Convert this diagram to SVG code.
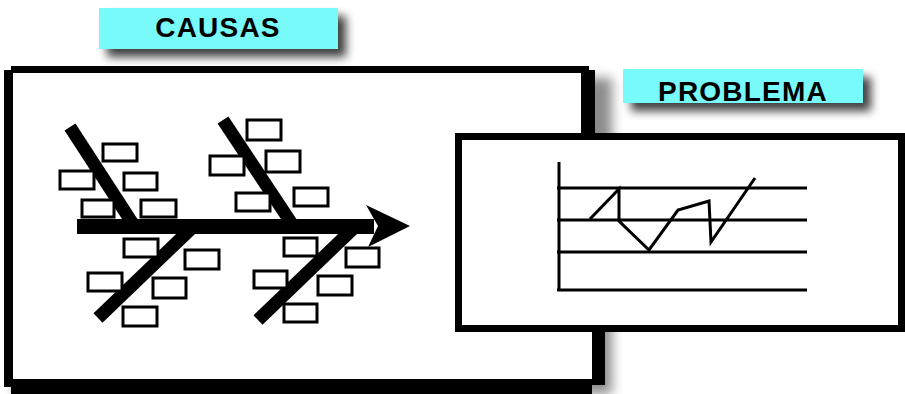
<svg xmlns="http://www.w3.org/2000/svg" width="905" height="394" viewBox="0 0 905 394">
  <style>
    .lbl { fill: #78FAFA; }
    .lbltxt { font-family: "Liberation Sans", Arial, sans-serif; font-weight: bold; font-size: 28px; fill: #000; text-anchor: middle; letter-spacing: 1.2px; }
    .shadow { fill: #000; opacity: 0.75; }
    .frame { fill: #000; fill-rule: evenodd; }
    .box { fill: #fff; stroke: #000; stroke-width: 3; }
    .bone { stroke: #000; stroke-width: 13; stroke-linecap: butt; fill: none; }
    .chart { stroke: #000; stroke-width: 3; fill: none; }
  </style>
  <defs>
    <filter id="blur" x="-30%" y="-60%" width="160%" height="220%">
      <feGaussianBlur stdDeviation="5"/>
    </filter>
    <filter id="blurBig" x="-10%" y="-10%" width="120%" height="120%">
      <feGaussianBlur stdDeviation="6"/>
    </filter>
  </defs>
  <rect width="905" height="394" fill="#fff"/>

  <g id="causes-frame">
    <path d="M14,78 H612 V394 H14 Z" fill="#000" opacity="0.45" filter="url(#blurBig)"/>
    <path class="frame" d="M4,70 H11 V66 H589 V70 H595 V200 H605 V385 H592 V394 H11 V387 H4 Z M13,73 H581 V200 H592 V379 H13 Z"/>
    <path d="M13,73 H581 V200 H592 V379 H13 Z" fill="#fff"/>
  </g>

  <g id="causas-label">
    <rect class="shadow" x="107" y="16" width="239" height="41" filter="url(#blur)"/>
    <rect class="lbl" x="99" y="8" width="239" height="41"/>
    <text class="lbltxt" x="218" y="37">CAUSAS</text>
  </g>

  <g id="problema-label">
    <rect class="shadow" x="631" y="77" width="240" height="34" filter="url(#blur)"/>
    <rect class="lbl" x="623" y="69" width="240" height="34"/>
    <text class="lbltxt" x="743" y="101">PROBLEMA</text>
  </g>

  <g id="connectors">
    <line class="bone" x1="70" y1="127" x2="133" y2="224"/>
    <line class="bone" x1="223" y1="120" x2="292" y2="224"/>
    <line class="bone" x1="196" y1="224" x2="98" y2="318"/>
    <line class="bone" x1="358" y1="224" x2="258" y2="320"/>
    <rect x="77" y="219" width="297" height="15" fill="#000"/>
    <polygon points="366,205 410,226 368,247 378,226" fill="#000"/>
  </g>

  <g id="cause-boxes">
    <rect class="box" x="103" y="144" width="34" height="17"/>
    <rect class="box" x="60" y="171" width="34" height="18"/>
    <rect class="box" x="124" y="173" width="33" height="17"/>
    <rect class="box" x="82" y="200" width="32" height="17"/>
    <rect class="box" x="141" y="200" width="35" height="17"/>

    <rect class="box" x="247" y="120" width="34" height="20"/>
    <rect class="box" x="210" y="156" width="34" height="19"/>
    <rect class="box" x="266" y="151" width="34" height="21"/>
    <rect class="box" x="236" y="193" width="34" height="18"/>
    <rect class="box" x="294" y="188" width="34" height="18"/>

    <rect class="box" x="124" y="239" width="34" height="18"/>
    <rect class="box" x="185" y="250" width="34" height="19"/>
    <rect class="box" x="88" y="273" width="34" height="18"/>
    <rect class="box" x="153" y="278" width="33" height="20"/>
    <rect class="box" x="123" y="307" width="34" height="19"/>

    <rect class="box" x="284" y="238" width="33" height="18"/>
    <rect class="box" x="346" y="248" width="33" height="19"/>
    <rect class="box" x="254" y="271" width="33" height="17"/>
    <rect class="box" x="318" y="276" width="34" height="19"/>
    <rect class="box" x="284" y="304" width="33" height="18"/>
  </g>

  <g id="problem-frame">
    <rect x="458.5" y="136.5" width="443" height="192" fill="#fff" stroke="#000" stroke-width="7"/>
    <g class="chart">
      <line x1="559" y1="162" x2="559" y2="291"/>
      <line x1="557" y1="188" x2="807" y2="188"/>
      <line x1="557" y1="220" x2="807" y2="220"/>
      <line x1="557" y1="252" x2="807" y2="252"/>
      <line x1="557" y1="290" x2="807" y2="290"/>
      <polyline points="590,219 619,189 619,221 649,250 678,210 709,201 711,242 755,178"/>
    </g>
  </g>
</svg>
